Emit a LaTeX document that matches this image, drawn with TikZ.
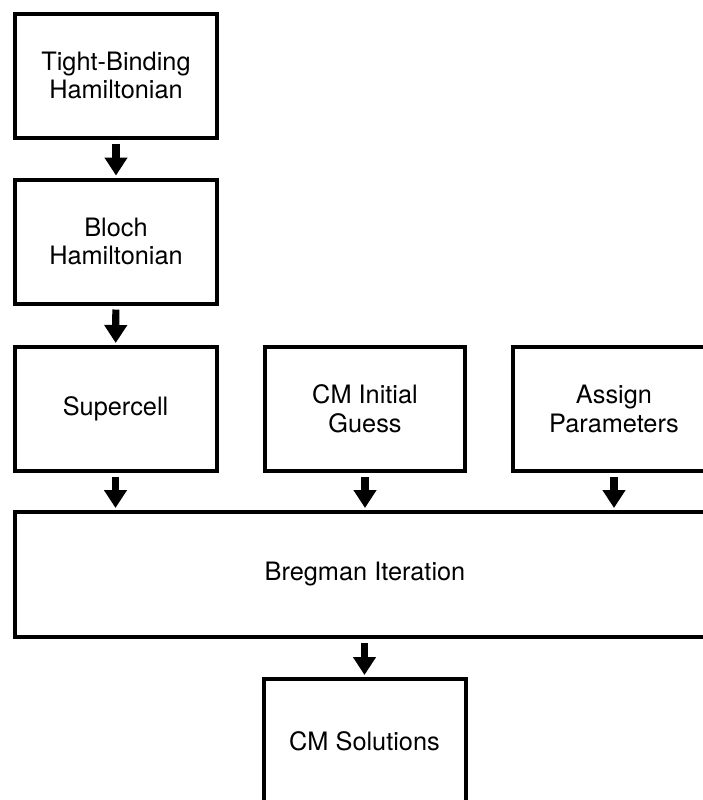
\documentclass[tikz,border=0pt]{standalone}
\usepackage{fontspec}
\setmainfont{TeX Gyre Heros}
\usetikzlibrary{arrows.meta}
\begin{document}
\begin{tikzpicture}[x=0.75pt,y=-0.75pt,
  stagebox/.style={draw=black, line width=3pt, rectangle, inner sep=0pt, outer sep=0pt,
    minimum width=151.5pt, minimum height=93pt, align=center,
    font=\fontsize{19}{21.4}\selectfont},
  flowarrow/.style={line width=5.3pt, -{Triangle[width=16.5pt,length=13.5pt]},
    shorten <=4.5pt, shorten >=3pt}]
\clip (0,0) rectangle (703,800);
\useasboundingbox (0,0) rectangle (703,800);
\fill[white] (0,0) rectangle (703,800);
\node[stagebox] (tb) at (116,75.5) {Tight-Binding\\Hamiltonian};
\node[stagebox] (bloch) at (116,241.5) {Bloch\\Hamiltonian};
\node[stagebox] (super) at (115.5,409) {Supercell};
\node[stagebox, minimum width=150pt] (guess) at (365,409) {CM Initial\\Guess};
\node[stagebox] (assign) at (614,409) {Assign\\Parameters};
\node[stagebox, minimum width=525pt, minimum height=93.75pt] (breg) at (365,574.5) {Bregman Iteration};
\node[stagebox] (sol) at (364.5,741) {CM Solutions};
\draw[flowarrow] (tb) -- (bloch);
\draw[flowarrow] (bloch) -- (super);
\draw[flowarrow] (super.south) -- (super.south |- breg.north);
\draw[flowarrow] (guess.south) -- (guess.south |- breg.north);
\draw[flowarrow] (assign.south) -- (assign.south |- breg.north);
\draw[flowarrow] (breg.south -| sol.north) -- (sol.north);
\end{tikzpicture}
\end{document}
